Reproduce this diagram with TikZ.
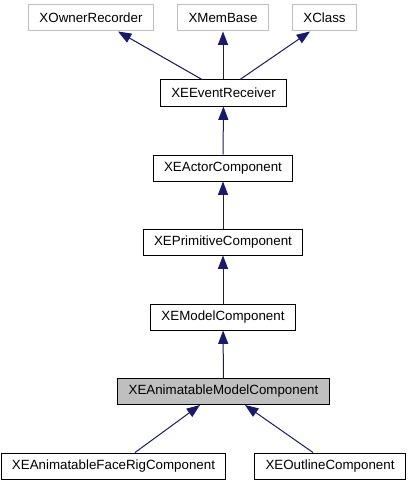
\documentclass[tikz,border=0pt]{standalone}
\usepackage{fontspec}
\setmainfont{Liberation Sans}
\usetikzlibrary{arrows.meta}
\definecolor{edgeblue}{HTML}{191970}
\definecolor{grey75}{HTML}{BFBFBF}

\begin{document}
\begin{tikzpicture}[x=0.75pt,y=-0.75pt,
  cls/.style={draw=black,line width=0.75pt,minimum height=19.5pt,inner xsep=8pt,font=\fontsize{10pt}{12pt}\selectfont},
  ext/.style={cls,draw=grey75},
  self/.style={cls,fill=grey75},
  inherit/.style={edgeblue,line width=0.75pt,{Triangle[length=10pt,width=7.5pt]}-}]
  \useasboundingbox (0,0) rectangle (411,485);
  \node[ext] (owner) at (91,18) {XOwnerRecorder};
  \node[ext] (membase) at (223,18) {XMemBase};
  \node[ext] (xclass) at (324.5,18) {XClass};
  \node[cls] (receiver) at (223.5,93) {XEEventReceiver};
  \node[cls] (actor) at (223,168) {XEActorComponent};
  \node[cls] (primitive) at (223,242) {XEPrimitiveComponent};
  \node[cls] (model) at (223,317) {XEModelComponent};
  \node[self] (animmodel) at (223.5,391.5) {XEAnimatableModelComponent};
  \node[cls] (facerig) at (113.5,466) {XEAnimatableFaceRigComponent};
  \node[cls] (outline) at (330,466) {XEOutlineComponent};

  \draw[inherit] (owner.south -| 118,0) -- (receiver.north -| 202,0);
  \draw[inherit] (membase) -- (receiver.north -| membase);
  \draw[inherit] (xclass.south -| 310,0) -- (receiver.north -| 240,0);
  \draw[inherit] (receiver) -- (actor);
  \draw[inherit] (actor) -- (primitive);
  \draw[inherit] (primitive) -- (model);
  \draw[inherit] (model) -- (animmodel);
  \draw[inherit] (animmodel.south -| 200,0) -- (facerig.north -| 135,0);
  \draw[inherit] (animmodel.south -| 245,0) -- (outline.north -| 313,0);
\end{tikzpicture}
\end{document}
